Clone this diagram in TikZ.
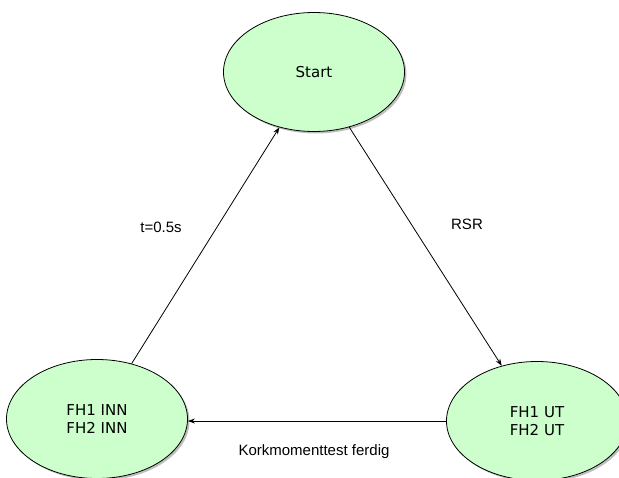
\documentclass[tikz,border=0pt]{standalone}
\usepackage{fontspec}
\setmainfont{DejaVu Sans}
\newfontfamily\labelfont{Liberation Sans}
\usetikzlibrary{shapes.geometric,arrows.meta,shadows}
\definecolor{stategreen}{HTML}{CCFFCC}
\tikzset{
  state/.style={ellipse, draw=black, line width=0.8pt, fill=stategreen,
    minimum width=181pt, minimum height=119pt, inner sep=0pt, align=center,
    font=\fontsize{15}{17.5}\selectfont,
    drop shadow={shadow xshift=2pt, shadow yshift=-2pt, opacity=0.25, fill=black}},
  conn/.style={draw=black, line width=0.8pt, -{Stealth[length=7pt,width=5pt]}},
  lbl/.style={font=\labelfont\fontsize{15}{17.5}\selectfont, inner sep=1pt}
}
\begin{document}
\begin{tikzpicture}[x=1pt,y=-1pt]
\useasboundingbox[fill=white] (0,0) rectangle (619,478);
\node[state] (start) at (314,72) {Start};
\node[state] (inn) at (97,419) {FH1 INN\\FH2 INN};
\node[state] (ut) at (537,421) {FH1 UT\\FH2 UT};
\draw[conn] (inn) -- (start);
\draw[conn] (start) -- (ut);
\draw[conn] (ut.west) -- (inn.east |- ut.west);
\node[lbl] (t) at (161,227) {t=0.5s};
\node[lbl] (rsr) at (467,224) {RSR};
\node[lbl] (kork) at (314,452) {Korkmomenttest ferdig};
\end{tikzpicture}
\end{document}
